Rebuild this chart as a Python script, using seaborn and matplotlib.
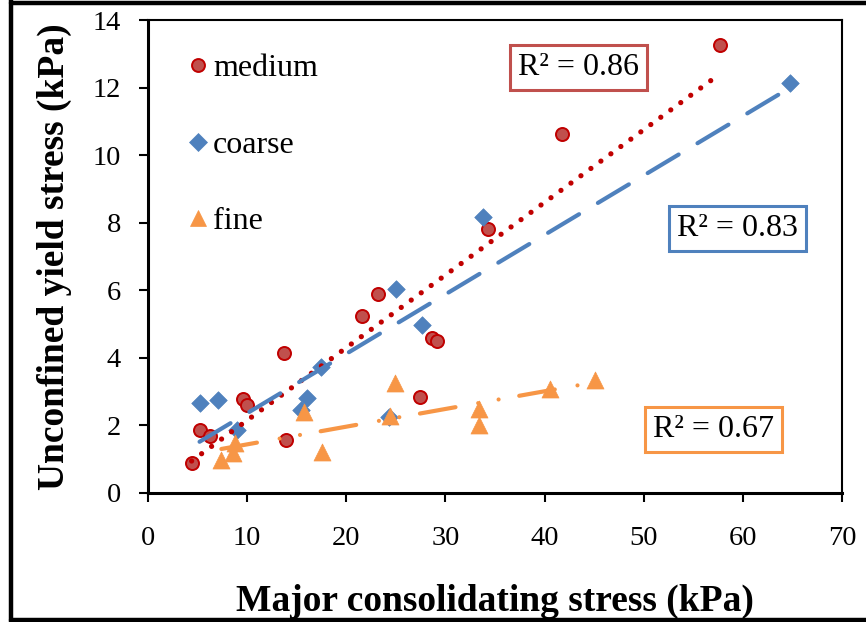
import matplotlib
matplotlib.use("Agg")
import matplotlib.pyplot as plt
import seaborn as sns
import numpy as np
import pandas as pd
from matplotlib.lines import Line2D

# ---- data ----
medium_x = [4.4, 5.2, 6.3, 9.6, 10.0, 13.7, 13.9, 21.6, 23.2, 27.4, 28.6, 29.2, 34.3, 41.8, 57.7]
medium_y = [0.88, 1.85, 1.70, 2.78, 2.61, 4.14, 1.57, 5.25, 5.89, 2.83, 4.60, 4.50, 7.82, 10.63, 13.25]

coarse_x = [5.2, 7.1, 9.0, 15.4, 16.0, 17.4, 24.3, 25.0, 27.6, 33.8, 64.8]
coarse_y = [2.66, 2.74, 1.87, 2.46, 2.81, 3.72, 2.26, 6.04, 4.96, 8.17, 12.14]

fine_x = [7.4, 8.55, 8.8, 15.7, 17.5, 24.4, 24.9, 33.4, 33.4, 40.5, 45.05]
fine_y = [0.98, 1.18, 1.47, 2.40, 1.22, 2.28, 3.25, 2.48, 2.01, 3.07, 3.33]

series_names = ["medium", "coarse", "fine"]
r2_labels = ["R\u00b2 = 0.86", "R\u00b2 = 0.83", "R\u00b2 = 0.67"]
x_ticks = [0, 10, 20, 30, 40, 50, 60, 70]
y_ticks = [0, 2, 4, 6, 8, 10, 12, 14]
x_label = "Major consolidating stress (kPa)"
y_label = "Unconfined yield stress (kPa)"

# ---- style ----
sns.set_style("white")
plt.rcParams["font.family"] = ["Liberation Serif", "DejaVu Serif"]
plt.rcParams["lines.scale_dashes"] = False
plt.rcParams["text.color"] = "black"
plt.rcParams["axes.labelcolor"] = "black"
plt.rcParams["xtick.color"] = "black"
plt.rcParams["ytick.color"] = "black"

fig = plt.figure(figsize=(8.66, 6.22), dpi=100)
ax = fig.add_axes([148 / 866, 1 - 493 / 622, (842 - 148) / 866, (493 - 20) / 622])

df_m = pd.DataFrame({"x": medium_x, "y": medium_y})
df_c = pd.DataFrame({"x": coarse_x, "y": coarse_y})
df_f = pd.DataFrame({"x": fine_x, "y": fine_y})

red_fill, red_edge, red_line = "#C0504D", "#C00000", "#C00000"
blue = "#4F81BD"
orange = "#F79646"

sns.regplot(data=df_m, x="x", y="y", ax=ax, ci=None, marker="o",
            scatter_kws=dict(s=88, facecolor=red_fill, edgecolor=red_edge,
                             linewidths=1.4, alpha=1, zorder=3),
            line_kws=dict(color=red_line, lw=3.8, dashes=(0.01, 8.9),
                          dash_capstyle="round", zorder=4))
sns.regplot(data=df_c, x="x", y="y", ax=ax, ci=None, marker="D",
            scatter_kws=dict(s=80, facecolor=blue, edgecolor=blue,
                             linewidths=0.5, alpha=1, zorder=3),
            line_kws=dict(color=blue, lw=3.0, dashes=(26, 15.8),
                          dash_capstyle="round", zorder=4))
sns.regplot(data=df_f, x="x", y="y", ax=ax, ci=None, marker="^",
            scatter_kws=dict(s=150, facecolor=orange, edgecolor=orange,
                             linewidths=0.5, alpha=1, zorder=3),
            line_kws=dict(color=orange, lw=3.0, dashes=(26, 16.6, 0.01, 14.9, 0.01, 15.1),
                          dash_capstyle="round", zorder=4))

ax.set_xlim(0, 70)
ax.set_ylim(0, 14)
ax.set_xticks(x_ticks)
ax.set_yticks(y_ticks)
ax.set_xticklabels([str(t) for t in x_ticks])
ax.set_yticklabels([str(t) for t in y_ticks])
ax.tick_params(axis="both", labelsize=20.5, direction="out", length=6.5, width=1.5,
               color="black", labelcolor="black")
ax.tick_params(axis="x", pad=17, bottom=True, top=False)
ax.tick_params(axis="y", pad=13, left=True, right=False)
ax.set_xlabel(x_label, fontsize=27, fontweight="bold", labelpad=24, color="black")
ax.set_ylabel(y_label, fontsize=27, fontweight="bold", labelpad=15, color="black")

for side in ["left", "bottom"]:
    ax.spines[side].set_linewidth(2.2)
    ax.spines[side].set_color("black")
for side in ["top", "right"]:
    ax.spines[side].set_linewidth(1.5)
    ax.spines[side].set_color("black")
    ax.spines[side].set_visible(True)

# legend
handles = [
    Line2D([], [], ls="none", marker="o", ms=9.3, mfc=red_fill, mec=red_edge, mew=1.4),
    Line2D([], [], ls="none", marker="D", ms=9.0, mfc=blue, mec=blue, mew=0.5),
    Line2D([], [], ls="none", marker="^", ms=12.2, mfc=orange, mec=orange, mew=0.5),
]
leg = ax.legend(handles, series_names, loc="upper left", bbox_to_anchor=(0.033, 0.955),
                frameon=False, fontsize=23, labelspacing=1.47, handlelength=0.9,
                handletextpad=0.02, borderaxespad=0)
for t in leg.get_texts():
    t.set_color("black")

# R^2 boxes
r2_pos = [(43.4, 12.6), (59.5, 7.82), (57.0, 1.87)]
r2_cols = [red_fill, blue, orange]
for lab, (px, py), col in zip(r2_labels, r2_pos, r2_cols):
    ax.text(px, py, lab, fontsize=23, ha="center", va="center", color="black",
            bbox=dict(boxstyle="square,pad=0.25", fc="white", ec=col, lw=2.2), zorder=5)

# figure border (left, top, bottom; right edge is cut off in the reference)
W, H = 866.0, 622.0
bx = 10.5 / W
fig.add_artist(Line2D([bx, bx], [0, 1], transform=fig.transFigure, color="black", lw=3.2))
fig.add_artist(Line2D([bx, 1], [1 - 2.5 / H, 1 - 2.5 / H], transform=fig.transFigure,
                      color="black", lw=3.2))
fig.add_artist(Line2D([bx, 1], [2.5 / H, 2.5 / H], transform=fig.transFigure,
                      color="black", lw=3.2))

fig.savefig("out.png", dpi=100)
